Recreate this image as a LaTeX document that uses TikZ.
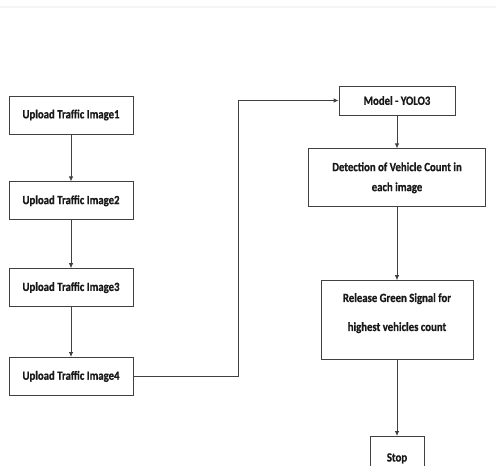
\documentclass[tikz,border=0pt]{standalone}
\usepackage{fontspec}
\setmainfont{Carlito}[FakeStretch=0.86, BoldFeatures={FakeBold=0.8}]
\usetikzlibrary{positioning,arrows.meta}
\newcommand{\edgecol}{black!75}
\newcommand{\txtcol}{black!90}
\tikzset{
  box/.style={draw=\edgecol, line width=0.8pt, text=\txtcol, align=center,
    font=\bfseries\fontsize{12.5}{14}\selectfont, inner sep=2pt},
  imgbox/.style={box, minimum width=124pt, minimum height=38pt},
  arr/.style={draw=\edgecol, line width=0.8pt, -{Latex[length=5pt,width=4.5pt]}}
}

\begin{document}
\begin{tikzpicture}[x=1pt,y=-1pt]
        \useasboundingbox (0,0) rectangle (496,466);
        \draw[black!4, line width=1.5pt] (0,7) -- (496,7);
        \node[imgbox] (img1) at (71,115) {Upload Traffic Image1};
        \node[imgbox, below=47pt of img1] (img2) {Upload Traffic Image2};
        \node[imgbox, below=48pt of img2] (img3) {Upload Traffic Image3};
        \node[imgbox, below=50pt of img3] (img4) {Upload Traffic Image4};
        \node[box, minimum width=116pt, minimum height=29pt] (model) at (397,100.5) {Model - YOLO3};
        \node[box, minimum width=177pt, minimum height=58pt, below=33pt of model]
          (detect) {Detection of Vehicle Count in\\[6pt] each image};
        \node[box, minimum width=152pt, minimum height=79pt, below=73pt of detect]
          (release) {Release Green Signal for\\[15pt] highest vehicles count\\[2pt]};
        \node[box, minimum width=54pt, minimum height=44pt, anchor=north]
          (stop) at ([yshift=-76pt]release.south) {Stop};
        \draw[arr] (img1) -- (img2);
        \draw[arr] (img2) -- (img3);
        \draw[arr] (img3) -- (img4);
        \draw[arr] (img4.east) -- ++(105,0) |- (model.west);
        \draw[arr] (model) -- (detect);
        \draw[arr] (detect) -- (release);
        \draw[arr] (release) -- (stop);
    \end{tikzpicture}
\end{document}
